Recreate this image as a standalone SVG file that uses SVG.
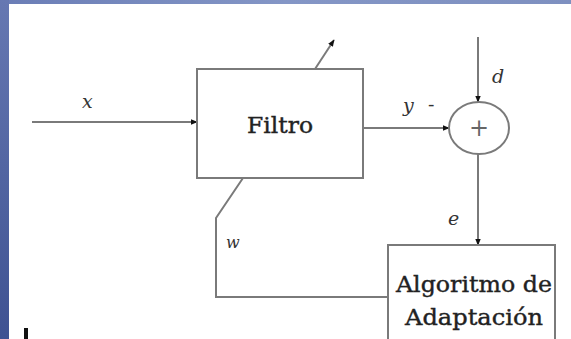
<svg xmlns="http://www.w3.org/2000/svg" width="571" height="339" viewBox="0 0 571 339">
  <defs>
    <linearGradient id="topband" x1="0" y1="0" x2="1" y2="0">
      <stop offset="0" stop-color="#6a7db6"/>
      <stop offset="0.5" stop-color="#8496c6"/>
      <stop offset="1" stop-color="#7e90c0"/>
    </linearGradient>
    <linearGradient id="leftband" x1="0" y1="0" x2="0" y2="1">
      <stop offset="0" stop-color="#6678b2"/>
      <stop offset="1" stop-color="#3e5292"/>
    </linearGradient>
    <marker id="arrB" viewBox="0 0 10 10" refX="9" refY="5" markerWidth="7" markerHeight="7" orient="auto" markerUnits="userSpaceOnUse">
      <path d="M0,1 L10,5 L0,9 z" fill="#111"/>
    </marker>
  </defs>
  <style>
    .ln { fill: none; stroke: #7a7a7a; stroke-width: 2; }
    .box { fill: #fff; stroke: #7a7a7a; stroke-width: 2; }
    .lbl { font-family: 'DejaVu Serif', 'Liberation Serif', serif; font-style: italic; font-size: 19px; fill: #333; }
    .txt { font-family: 'DejaVu Serif', 'Liberation Serif', serif; font-size: 23px; fill: #222; text-anchor: middle; stroke: #222; stroke-width: 0.4; }
  </style>
  <rect width="571" height="339" fill="#fff"/>
  <rect x="0" y="0" width="571" height="4" fill="url(#topband)"/>
  <rect x="0" y="0" width="9" height="339" fill="url(#leftband)"/>
  <rect x="24" y="328" width="4" height="11" fill="#111"/>

  <g id="connectors">
    <line class="ln" x1="32" y1="122" x2="197" y2="122" marker-end="url(#arrB)"/>
    <line class="ln" x1="315" y1="69" x2="334" y2="40" marker-end="url(#arrB)"/>
    <line class="ln" x1="363" y1="128" x2="449" y2="128" marker-end="url(#arrB)"/>
    <line class="ln" x1="478" y1="37" x2="478" y2="102" marker-end="url(#arrB)"/>
    <line class="ln" x1="478" y1="154" x2="478" y2="245" marker-end="url(#arrB)"/>
    <polyline class="ln" points="243,178 216,218 216,297 388,297"/>
  </g>

  <g id="filtro">
    <rect class="box" x="197" y="69" width="166" height="109"/>
    <text class="txt" x="280" y="133" textLength="66" lengthAdjust="spacingAndGlyphs">Filtro</text>
  </g>

  <g id="sumador">
    <ellipse class="box" cx="479" cy="128" rx="30" ry="26"/>
    <text x="479" y="136" font-family="'DejaVu Serif', serif" font-size="24" fill="#666" text-anchor="middle">+</text>
  </g>

  <g id="algoritmo">
    <rect class="box" x="388" y="245" width="167" height="100"/>
    <text class="txt" x="474" y="292" textLength="156" lengthAdjust="spacingAndGlyphs">Algoritmo de</text>
    <text class="txt" x="474" y="325" textLength="138" lengthAdjust="spacingAndGlyphs">Adaptación</text>
  </g>

  <g id="labels">
    <text class="lbl" x="82" y="108">x</text>
    <text class="lbl" x="492" y="83">d</text>
    <text class="lbl" x="403" y="112">y</text>
    <text class="lbl" x="428" y="111" style="font-style:normal">-</text>
    <text class="lbl" x="448" y="225">e</text>
    <text class="lbl" x="226" y="248" style="font-size:16px">w</text>
  </g>
</svg>
